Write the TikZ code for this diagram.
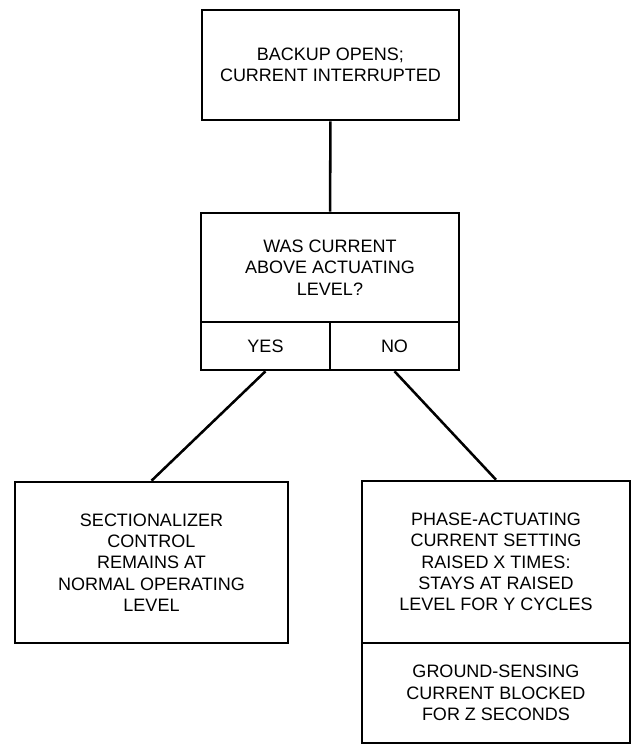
\documentclass[tikz,border=0pt]{standalone}
\usepackage{fontspec}
\setmainfont{Liberation Sans}
\tikzset{
  flowbox/.style={draw, line width=1.8pt, align=center, inner sep=0pt,
    font=\fontsize{12.8}{15.1}\selectfont},
  link/.style={line width=1.8pt}
}

\begin{document}
\begin{tikzpicture}[x=0.025cm,y=-0.025cm]
        \useasboundingbox (0,0) rectangle (631,746);

        \node[flowbox, minimum width=6.425cm, minimum height=2.75cm] (opens) at (330.5,65)
            {BACKUP OPENS;\\CURRENT INTERRUPTED};

        \node[flowbox, minimum width=6.45cm, minimum height=2.725cm] (above) at (330,267.5)
            {WAS CURRENT\\ABOVE ACTUATING\\LEVEL?};
        \node[flowbox, minimum width=3.225cm, minimum height=1.2cm] (yes) at (265.5,346) {YES};
        \node[flowbox, minimum width=3.225cm, minimum height=1.2cm] (no) at (394.5,346) {NO};

        \node[flowbox, minimum width=6.825cm, minimum height=4.025cm] (normal) at (151.5,562.5)
            {SECTIONALIZER\\CONTROL\\REMAINS AT\\NORMAL OPERATING\\LEVEL};

        \node[flowbox, minimum width=6.7cm, minimum height=4.05cm] (raised) at (496,562)
            {PHASE-ACTUATING\\CURRENT SETTING\\RAISED X TIMES:\\STAYS AT RAISED\\LEVEL FOR Y CYCLES};
        \node[flowbox, minimum width=6.7cm, minimum height=2.5cm] (blocked) at (496,693)
            {GROUND-SENSING\\CURRENT BLOCKED\\FOR Z SECONDS};

        \draw[link] (opens) -- (above);
        \draw[link] (yes.south) -- (normal.north);
        \draw[link] (no.south) -- (raised.north);

\end{tikzpicture}
\end{document}
